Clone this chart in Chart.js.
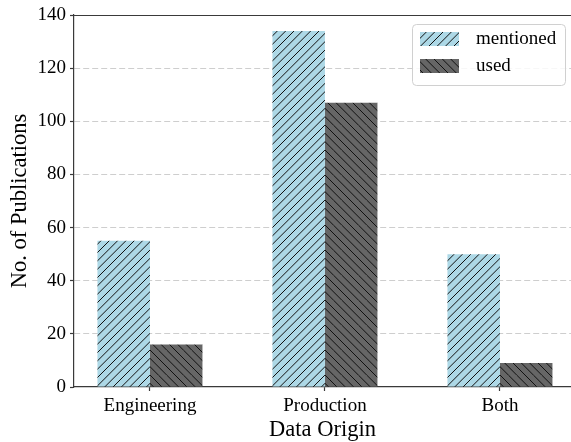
<!DOCTYPE html>
<html>
<head>
<meta charset="utf-8">
<script src="https://cdn.jsdelivr.net/npm/chart.js@4/dist/chart.umd.min.js"></script>
<style>
  html, body { margin: 0; padding: 0; background: #fff; overflow: hidden; }
  #wrap { width: 571px; height: 442px; }
</style>
</head>
<body>
<div id="wrap"><canvas id="c" width="571" height="442"></canvas></div>
<script>
// Publications per data origin
const categories = ['Engineering', 'Production', 'Both'];
const mentioned = [55, 134, 50];
const used = [16, 107, 9];
const seriesNames = ['mentioned', 'used'];
const yTicks = [0, 20, 40, 60, 80, 100, 120, 140];

const SERIF = "'Liberation Serif', 'Times New Roman', serif";
const SPINE = '#3a3a3a';

// Diagonal hatch fill: dir 1 = "/", dir -1 = "\"
function hatch(bg, dir) {
  const s = 25, n = 3, step = s / n;
  const cv = document.createElement('canvas');
  cv.width = s; cv.height = s;
  const g = cv.getContext('2d');
  g.fillStyle = bg;
  g.fillRect(0, 0, s, s);
  g.strokeStyle = '#111';
  g.lineWidth = 1;
  g.beginPath();
  for (let k = -n; k <= 2 * n; k++) {
    const c = k * step;
    if (dir > 0) { g.moveTo(c, 0); g.lineTo(c - s, s); }
    else { g.moveTo(c, 0); g.lineTo(c + s, s); }
  }
  g.stroke();
  return g.createPattern(cv, 'repeat');
}

const fillMentioned = hatch('#add8e6', 1);
const fillUsed = hatch('#666666', -1);

const toPoints = arr => arr.map((v, i) => ({ x: i, y: v }));

// Top spine
const topSpine = {
  id: 'topSpine',
  afterDraw(chart) {
    const { ctx, chartArea: a } = chart;
    ctx.save();
    ctx.strokeStyle = SPINE;
    ctx.lineWidth = 1.2;
    ctx.beginPath();
    ctx.moveTo(a.left, Math.round(a.top) + 0.5);
    ctx.lineTo(a.right, Math.round(a.top) + 0.5);
    ctx.stroke();
    ctx.restore();
  }
};

// Boxed legend in the upper right of the plot
const boxLegend = {
  id: 'boxLegend',
  afterDraw(chart) {
    const { ctx } = chart;
    const x = 412.5, y = 24.5, w = 153, h = 61, r = 4;
    ctx.save();
    ctx.fillStyle = 'rgba(255,255,255,0.85)';
    ctx.strokeStyle = '#d0d0d0';
    ctx.lineWidth = 1;
    ctx.beginPath();
    ctx.moveTo(x + r, y);
    ctx.arcTo(x + w, y, x + w, y + h, r);
    ctx.arcTo(x + w, y + h, x, y + h, r);
    ctx.arcTo(x, y + h, x, y, r);
    ctx.arcTo(x, y, x + w, y, r);
    ctx.closePath();
    ctx.fill();
    ctx.stroke();
    chart.data.datasets.forEach((ds, i) => {
      const py = 32 + i * 27;
      ctx.fillStyle = ds.backgroundColor;
      ctx.fillRect(420, py, 39, 14);
      ctx.fillStyle = '#000';
      ctx.font = '19px ' + SERIF;
      ctx.textBaseline = 'middle';
      ctx.textAlign = 'left';
      ctx.fillText(ds.label, 476, py + 7.5);
    });
    ctx.restore();
  }
};

new Chart(document.getElementById('c'), {
  type: 'bar',
  data: {
    datasets: [
      { label: seriesNames[0], data: toPoints(mentioned), backgroundColor: fillMentioned, borderWidth: 0 },
      { label: seriesNames[1], data: toPoints(used), backgroundColor: fillUsed, borderWidth: 0 }
    ]
  },
  options: {
    responsive: false,
    animation: false,
    events: [],
    categoryPercentage: 0.6,
    barPercentage: 1.0,
    layout: { padding: { top: 15, right: 0, left: 0, bottom: 0 } },
    plugins: { legend: { display: false }, tooltip: { enabled: false } },
    scales: {
      x: {
        type: 'linear',
        min: -0.434,
        max: 2.406,
        offset: false,
        afterBuildTicks: s => { s.ticks = categories.map((_, i) => ({ value: i })); },
        ticks: {
          callback: v => categories[v],
          font: { family: SERIF, size: 19 },
          color: '#000',
          padding: 4,
          maxRotation: 0,
          autoSkip: false
        },
        grid: { offset: false, drawOnChartArea: false, tickLength: 4, tickColor: SPINE, tickWidth: 1.2 },
        border: { color: SPINE, width: 1.2 },
        title: {
          display: true,
          text: 'Data Origin',
          color: '#000',
          font: { family: SERIF, size: 22.5, lineHeight: 1 },
          padding: { top: 0, bottom: 1 }
        },
        afterFit: s => { s.height = 55; s.paddingLeft = 0; s.paddingRight = 0; }
      },
      y: {
        min: 0,
        max: 140,
        z: 1,
        afterBuildTicks: s => { s.ticks = yTicks.map(v => ({ value: v })); },
        ticks: { font: { family: SERIF, size: 19 }, color: '#000', padding: 4 },
        grid: {
          color: c => (c.tick && c.tick.value === 0) ? 'rgba(0,0,0,0)' : 'rgba(190,190,190,0.75)',
          lineWidth: 1,
          tickLength: 4,
          tickColor: SPINE,
          tickWidth: 1.2
        },
        border: { color: SPINE, width: 1.2, dash: [6, 3] },
        title: {
          display: true,
          text: 'No. of Publications',
          color: '#000',
          font: { family: SERIF, size: 22.5, lineHeight: 1.2 },
          padding: { top: 7, bottom: 0 }
        },
        afterFit: s => { s.width = 74; s.paddingTop = 0; s.paddingBottom = 0; }
      }
    }
  },
  plugins: [topSpine, boxLegend]
});
</script>
</body>
</html>
